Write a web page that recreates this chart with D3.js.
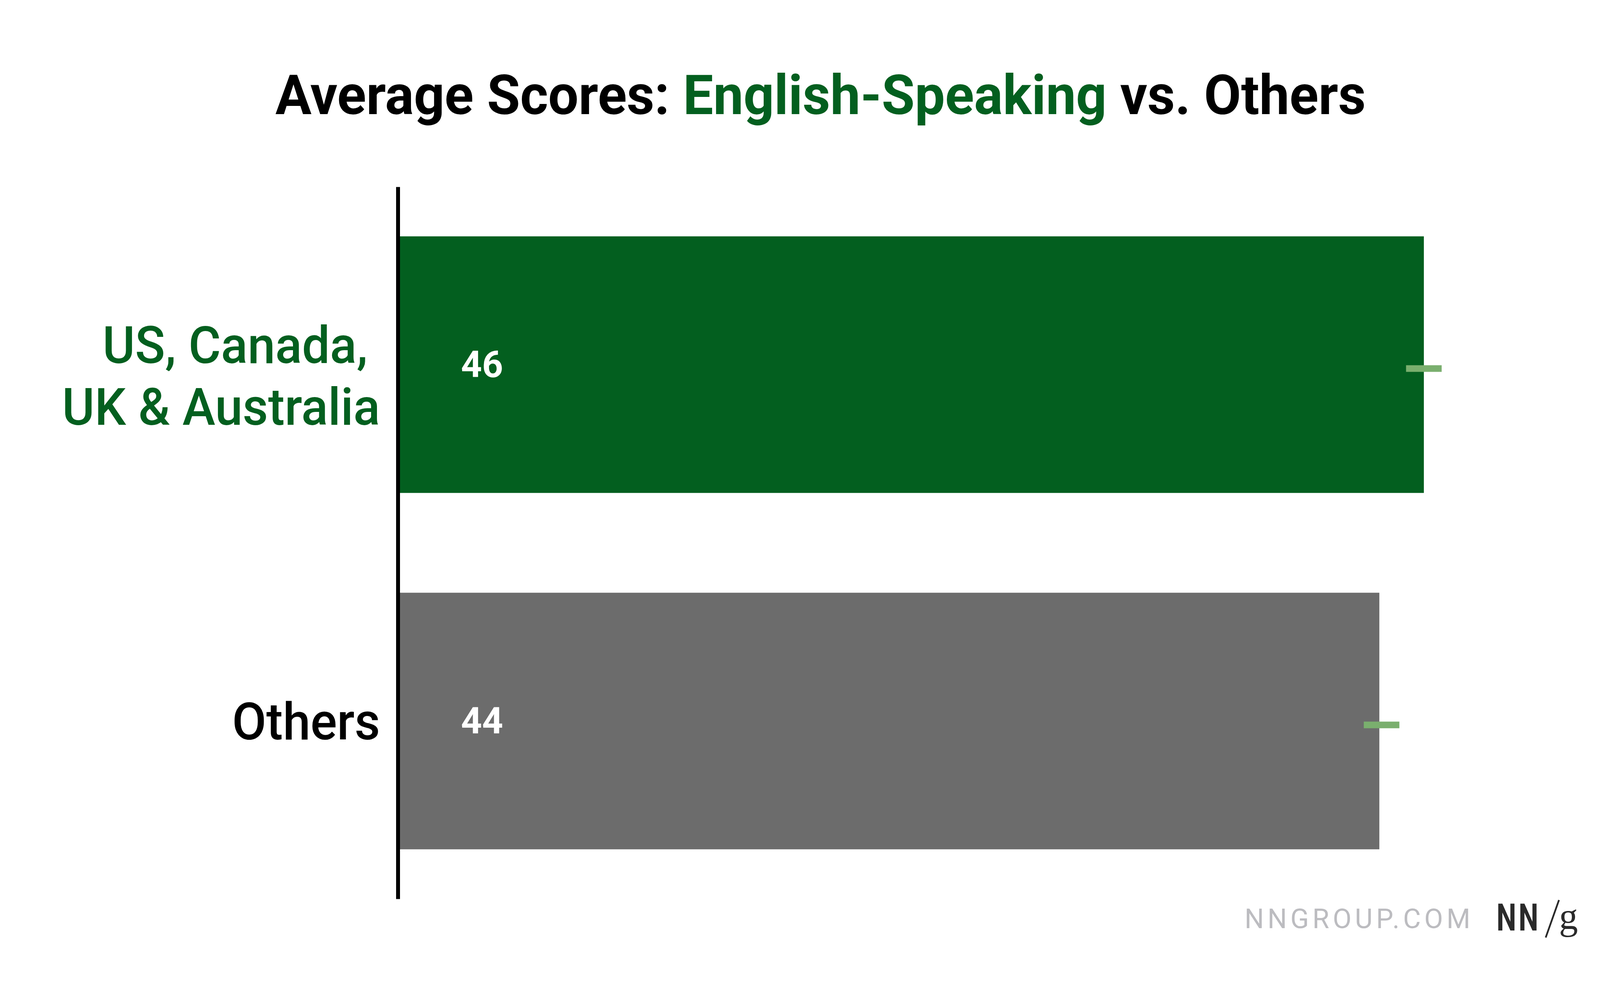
<!DOCTYPE html>
<html>
<head>
<meta charset="utf-8">
<script src="https://cdn.jsdelivr.net/npm/d3@7"></script>
<style>
  html, body { margin: 0; padding: 0; background: #ffffff; }
  svg { display: block; }
</style>
</head>
<body>
<script>
// ---------- data ----------
const categories = ["US, Canada, UK & Australia", "Others"];
const categoryLines = [["US, Canada, ", "UK & Australia"], ["Others"]];
const values = [46, 44];
const ciLow = [45.2, 43.3];
const ciHigh = [46.8, 44.9];
const barColors = ["#035F1F", "#6C6C6C"];
const labelColors = ["#035F1F", "#000000"];
const titleParts = [
  { text: "Average Scores: ", color: "#000000" },
  { text: "English-Speaking", color: "#035F1F" },
  { text: " vs. Others", color: "#000000" }
];
const footerText = "NNGROUP.COM";

// ---------- layout ----------
const W = 4205, H = 2523;
const FONT = "Roboto, 'Noto Sans', 'DejaVu Sans', sans-serif";

const svg = d3.select("body").append("svg")
  .attr("width", W).attr("height", H)
  .attr("viewBox", `0 0 ${W} ${H}`);

svg.append("rect").attr("width", W).attr("height", H).attr("fill", "#ffffff");

const x = d3.scaleLinear().domain([0, 60]).range([1024, 1024 + 60 * 56.98]);
const y = d3.scaleBand().domain(categories).range([478, 2300])
  .paddingInner(0.28).paddingOuter(0.139);

// helper: scale a text horizontally to a target width
function fitX(g, textSel, target, anchor, ax, ay) {
  const w = textSel.node().getComputedTextLength();
  const s = target / w;
  let tx = ax;
  if (anchor === "middle") tx = ax - (w * s) / 2;
  else if (anchor === "end") tx = ax - w * s;
  g.attr("transform", `translate(${tx},${ay}) scale(${s},1)`);
  return s;
}

// ---------- title ----------
const tg = svg.append("g");
const title = tg.append("text")
  .attr("x", 0).attr("y", 0)
  .attr("font-family", FONT).attr("font-weight", 700)
  .attr("font-size", 141);
title.selectAll("tspan").data(titleParts).join("tspan")
  .text(d => d.text).attr("fill", d => d.color)
  .style("white-space", "pre");
fitX(tg, title, 2792, "middle", 2101, 292);

// ---------- bars ----------
svg.append("g").selectAll("rect").data(categories).join("rect")
  .attr("x", x(0))
  .attr("y", d => y(d))
  .attr("width", (d, i) => x(values[i]) - x(0))
  .attr("height", y.bandwidth())
  .attr("fill", (d, i) => barColors[i]);

// ---------- CI marks ----------
svg.append("g").selectAll("rect").data(categories).join("rect")
  .attr("x", (d, i) => x(ciLow[i]))
  .attr("width", (d, i) => x(ciHigh[i]) - x(ciLow[i]))
  .attr("y", d => y(d) + y.bandwidth() / 2 + 10 - 8.5)
  .attr("height", 17)
  .attr("fill", "#7AAF6E");

// ---------- value labels ----------
svg.append("g").selectAll("text").data(categories).join("text")
  .attr("x", x(0) + 156)
  .attr("y", d => y(d) + y.bandwidth() / 2 + 32)
  .attr("font-family", FONT).attr("font-weight", 700)
  .attr("font-size", 94)
  .attr("fill", "#ffffff")
  .text((d, i) => values[i]);

// ---------- axis (left line) ----------
const axis = d3.axisLeft(y).tickSize(0).tickSizeOuter(0).tickFormat("");
const ag = svg.append("g").attr("transform", "translate(1018.5,0)").call(axis);
ag.select(".domain").attr("stroke", "#000000").attr("stroke-width", 10);
ag.selectAll(".tick").remove();

// ---------- category labels ----------
const capH = 94, lineH = 158, labelRight = 973;
// measure scale from longest line
const probe = svg.append("text").attr("font-family", FONT).attr("font-weight", 500)
  .attr("font-size", 132).style("white-space", "pre").text("UK & Australia");
const labelScale = 814 / probe.node().getComputedTextLength();
probe.remove();

categories.forEach((c, i) => {
  const lines = categoryLines[i];
  const cy = y(c) + y.bandwidth() / 2;
  const firstBase = cy - (lines.length - 1) * lineH / 2 + capH / 2 + (lines.length > 1 ? 28 : 0);
  const g = svg.append("g")
    .attr("transform", `translate(${labelRight},${firstBase}) scale(${labelScale},1)`);
  g.append("text")
    .attr("font-family", FONT).attr("font-weight", 500)
    .attr("font-size", 132).attr("text-anchor", "end")
    .attr("fill", labelColors[i])
    .style("white-space", "pre")
    .selectAll("tspan").data(lines).join("tspan")
    .attr("x", 0).attr("y", (d, k) => k * lineH)
    .text(d => d);
});

// ---------- footer ----------
svg.append("text")
  .attr("x", 3186).attr("y", 2375)
  .attr("font-family", FONT).attr("font-weight", 400)
  .attr("font-size", 70).attr("fill", "#BCBCC0")
  .attr("textLength", 578).attr("lengthAdjust", "spacing")
  .text(footerText);

const nng = svg.append("g");
const nn = nng.append("text").attr("x", 0).attr("y", 0)
  .attr("font-family", FONT).attr("font-weight", 700)
  .attr("font-size", 97).attr("fill", "#2A2A2A")
  .attr("letter-spacing", 8)
  .text("NN");
fitX(nng, nn, 113, "start", 3831, 2381);

svg.append("line")
  .attr("x1", 3991).attr("y1", 2303).attr("x2", 3957).attr("y2", 2399)
  .attr("stroke", "#2A2A2A").attr("stroke-width", 4.5);

svg.append("text")
  .attr("x", 3991).attr("y", 2377)
  .attr("font-family", "'Liberation Serif', 'DejaVu Serif', serif")
  .attr("font-size", 97).attr("fill", "#2A2A2A")
  .text("g");
</script>
</body>
</html>
